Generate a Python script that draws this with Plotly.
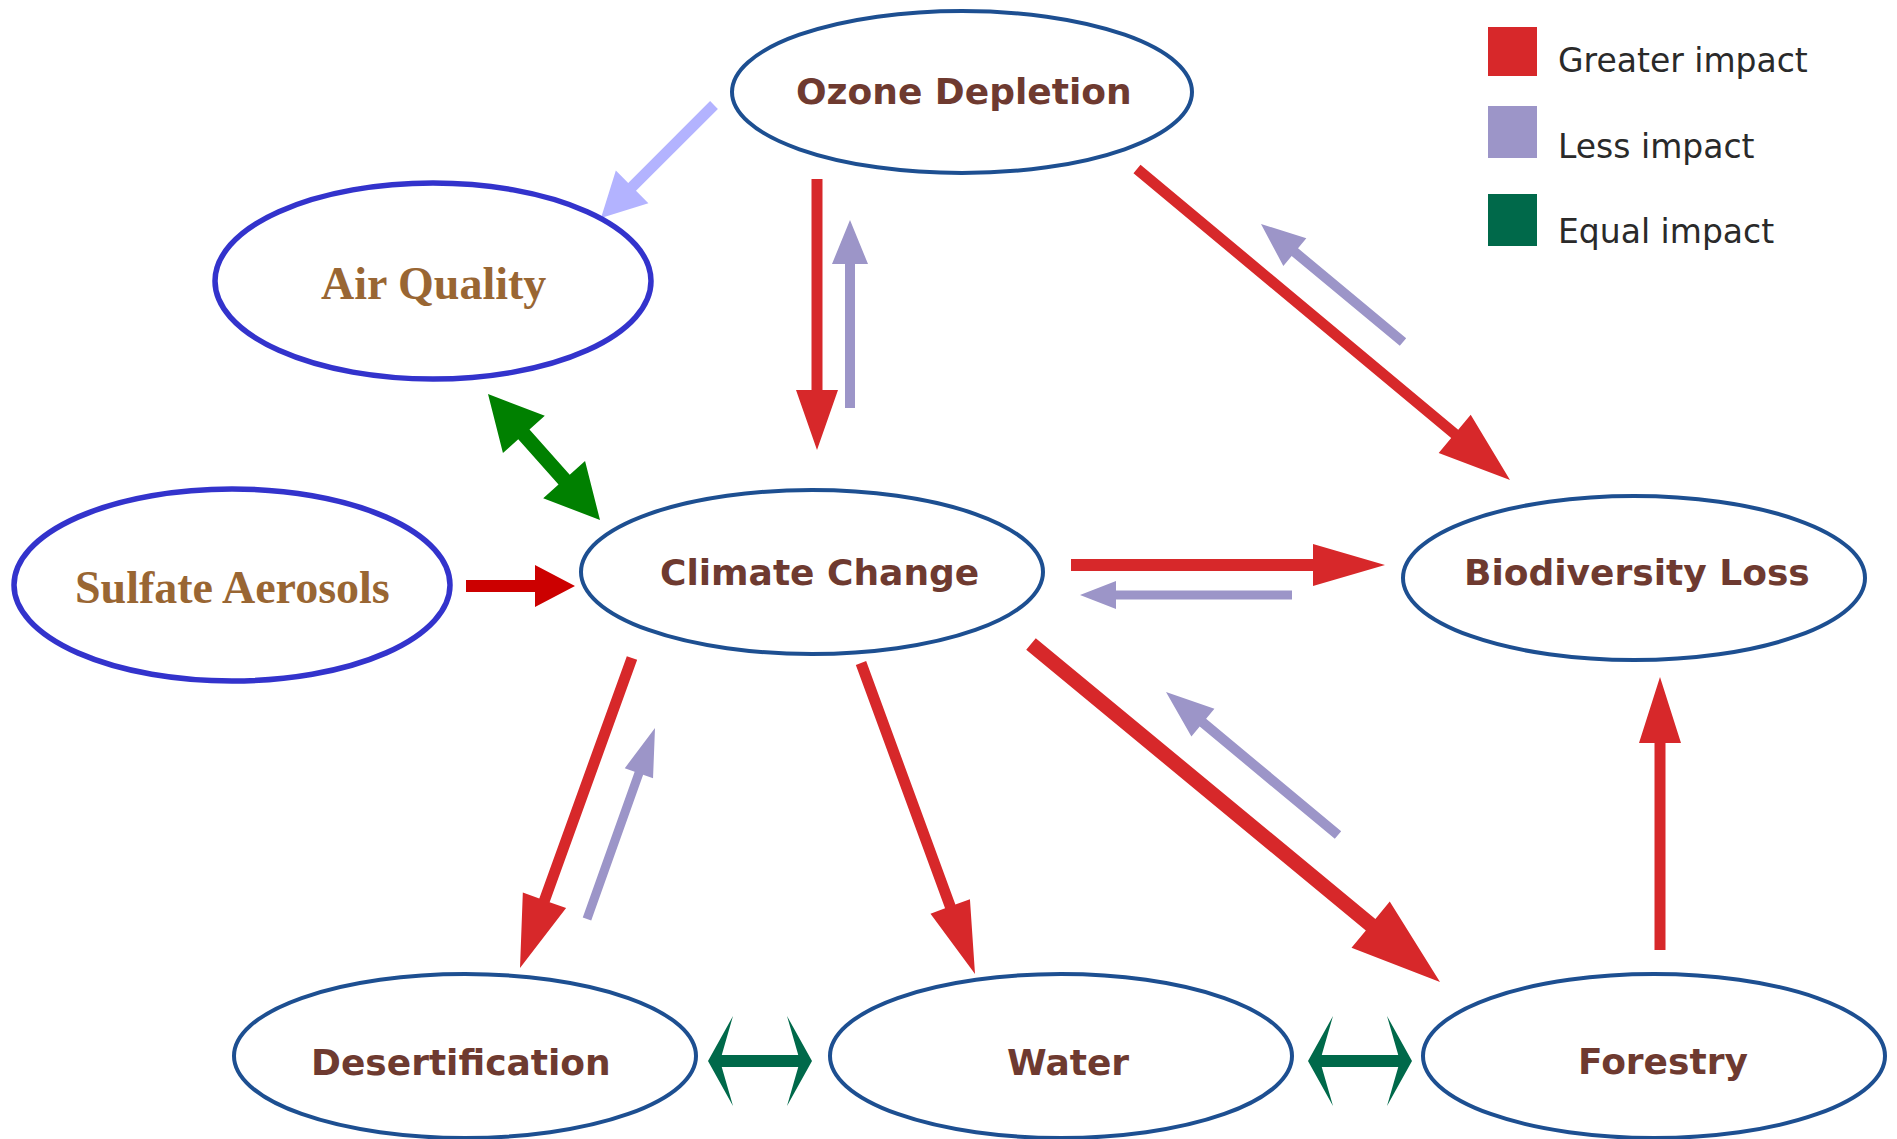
import numpy as np
import plotly.graph_objects as go

W, H = 1897, 1139

# ---------------- data ----------------
node_labels = ["Ozone Depletion", "Air Quality", "Sulfate Aerosols", "Climate Change",
               "Biodiversity Loss", "Desertification", "Water", "Forestry"]
node_group = ["core", "added", "added", "core", "core", "core", "core", "core"]

edge_source = ["Ozone Depletion", "Ozone Depletion", "Climate Change", "Ozone Depletion",
               "Biodiversity Loss", "Air Quality", "Sulfate Aerosols", "Climate Change",
               "Biodiversity Loss", "Climate Change", "Desertification", "Climate Change",
               "Climate Change", "Forestry", "Forestry", "Desertification", "Water"]
edge_target = ["Air Quality", "Climate Change", "Ozone Depletion", "Biodiversity Loss",
               "Ozone Depletion", "Climate Change", "Climate Change", "Biodiversity Loss",
               "Climate Change", "Desertification", "Climate Change", "Water",
               "Forestry", "Climate Change", "Biodiversity Loss", "Water", "Forestry"]
edge_impact = ["less", "greater", "less", "greater",
               "less", "equal", "greater", "greater",
               "less", "greater", "less", "greater",
               "greater", "less", "greater", "equal", "equal"]

legend_labels = ["Greater impact", "Less impact", "Equal impact"]
legend_keys = ["greater", "less", "equal"]

# ---------------- layout geometry ----------------
node_cx = [962, 433, 232, 812, 1634, 465, 1061, 1654]
node_cy = [92, 281, 585, 572, 578, 1056, 1056, 1056]
node_rx = [230, 218, 218, 231, 231, 231, 231, 231]
node_ry = [81, 98, 96, 82, 82, 82, 82, 82]
label_x = [964, 433, 232, 819, 1637, 461, 1068, 1663]
label_y = [91, 283, 587, 572, 572, 1062, 1062, 1061]

arrow_x0 = [714, 817, 850, 1137, 1403, 488, 466, 1071, 1292, 632, 587, 861, 1031, 1338, 1660, 708, 1308]
arrow_y0 = [105, 179, 408, 169, 342, 394, 586, 565, 595, 658, 919, 663, 644, 835, 950, 1061, 1061]
arrow_x1 = [601, 817, 850, 1510, 1261, 600, 575, 1385, 1080, 520, 655, 975, 1440, 1166, 1660, 812, 1412]
arrow_y1 = [218, 450, 220, 480, 224, 520, 586, 565, 595, 968, 728, 974, 982, 692, 677, 1061, 1061]
shaft_w = [11, 11, 10, 11, 10, 15, 12, 12, 9, 11, 9, 11, 15, 10, 11, 12, 12]
head_w = [46, 42, 36, 50, 36, 56, 42, 42, 28, 46, 30, 42, 60, 36, 42, 90, 90]
head_l = [44, 60, 44, 72, 44, 54, 40, 72, 36, 72, 48, 72, 90, 48, 66, 25, 25]
head_swept = [False] * 15 + [True, True]

impact_color = {"greater": "#D7282A", "less": "#9C95C8", "equal": "#00694A"}
edge_color_override = {0: "#B3B3FF", 5: "#008000", 6: "#CC0000"}
node_line_color = {"core": "#1D4F91", "added": "#3333CC"}
node_line_width = {"core": 4, "added": 5.5}

legend_sq_x0, legend_sq_x1 = 1488, 1537
legend_sq_y0 = [27, 106, 194]
legend_sq_y1 = [76, 158, 246]
legend_text_x = 1556
legend_text_y = [60, 146, 231]


def arrow_polygon(x0, y0, x1, y1, sw, hw, hl, both=False, swept=False):
    p0 = np.array([x0, y0], float)
    p1 = np.array([x1, y1], float)
    d = (p1 - p0) / np.linalg.norm(p1 - p0)
    n = np.array([-d[1], d[0]])

    def head(tip, direction):
        base = tip - direction * hl
        junc = tip - direction * hl * 0.55 if swept else base
        return [junc + n * sw / 2, base + n * hw / 2, tip, base - n * hw / 2, junc - n * sw / 2]

    h1 = head(p1, d)
    if both:
        h0 = head(p0, -d)
        poly = h1 + [h0[4], h0[3], h0[2], h0[1], h0[0]]
    else:
        poly = [p0 + n * sw / 2] + h1 + [p0 - n * sw / 2]
    poly.append(poly[0])
    return [float(q[0]) for q in poly], [float(q[1]) for q in poly]


fig = go.Figure()

for i in range(len(edge_source)):
    col = edge_color_override.get(i, impact_color[edge_impact[i]])
    both = edge_impact[i] == "equal"
    xs, ys = arrow_polygon(arrow_x0[i], arrow_y0[i], arrow_x1[i], arrow_y1[i],
                           shaft_w[i], head_w[i], head_l[i], both=both, swept=head_swept[i])
    fig.add_trace(go.Scatter(x=xs, y=ys, mode="lines", fill="toself", fillcolor=col,
                             line=dict(width=0, color=col), hoverinfo="skip",
                             showlegend=False))

shapes = []
annotations = []
for i, name in enumerate(node_labels):
    g = node_group[i]
    shapes.append(dict(type="circle", xref="x", yref="y",
                       x0=node_cx[i] - node_rx[i], x1=node_cx[i] + node_rx[i],
                       y0=node_cy[i] - node_ry[i], y1=node_cy[i] + node_ry[i],
                       line=dict(color=node_line_color[g], width=node_line_width[g]),
                       fillcolor="rgba(0,0,0,0)"))
    if g == "added":
        font = dict(family="Liberation Serif, Times New Roman, serif", size=46, color="#996633")
    else:
        font = dict(family="DejaVu Sans, Verdana, sans-serif", size=36, color="#6E3A30")
    annotations.append(dict(x=label_x[i], y=label_y[i], xref="x", yref="y",
                            text="<b>%s</b>" % name, showarrow=False, font=font,
                            xanchor="center", yanchor="middle"))

for k, lab in enumerate(legend_labels):
    col = impact_color[legend_keys[k]]
    shapes.append(dict(type="rect", xref="x", yref="y",
                       x0=legend_sq_x0, x1=legend_sq_x1,
                       y0=legend_sq_y0[k], y1=legend_sq_y1[k],
                       line=dict(width=0), fillcolor=col))
    annotations.append(dict(x=legend_text_x, y=legend_text_y[k], xref="x", yref="y",
                            text=lab, showarrow=False, xanchor="left", yanchor="middle",
                            font=dict(family="DejaVu Sans, Verdana, sans-serif", size=33,
                                      color="#2A2A2A")))

fig.update_layout(
    width=W, height=H,
    margin=dict(l=0, r=0, t=0, b=0),
    paper_bgcolor="white", plot_bgcolor="white",
    xaxis=dict(range=[0, W], visible=False, fixedrange=True),
    yaxis=dict(range=[H, 0], visible=False, fixedrange=True),
    shapes=shapes, annotations=annotations,
    showlegend=False,
)

fig.write_html("out.html", config={"displayModeBar": False},
               post_script="document.body.style.margin='0';document.body.style.overflow='hidden';")
